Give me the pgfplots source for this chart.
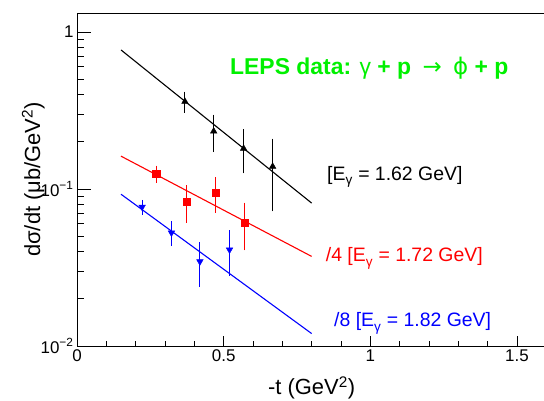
\documentclass[border=0pt]{standalone}
\usepackage{pgfplots}
\pgfplotsset{compat=1.18}
\usepackage{fontspec}
\setmainfont{Liberation Sans}
\newfontfamily\djv{DejaVu Sans}
\definecolor{rootgreen}{RGB}{0,240,0}
\definecolor{rootred}{RGB}{255,0,0}
\definecolor{rootblue}{RGB}{0,0,255}
\begin{document}
\begin{tikzpicture}[x=1bp,y=1bp]
\begin{axis}[
  at={(77bp,54bp)}, anchor=south west,
  width=469.3bp, height=333bp, scale only axis,
  xmin=0, xmax=1.6, ymode=log, ymin=0.01, ymax=1.32,
  axis line style={line width=0.9bp, black},
  xtick={0,0.5,1,1.5}, xticklabels={0,0.5,1,1.5},
  minor xtick={0.1,0.2,0.3,0.4,0.6,0.7,0.8,0.9,1.1,1.2,1.3,1.4},
  ytick={0.01,0.1,1}, yticklabels={10\textsuperscript{−2},10\textsuperscript{−1},1},
  minor ytick={0.02,0.03,0.04,0.05,0.06,0.07,0.08,0.09,0.2,0.3,0.4,0.5,0.6,0.7,0.8,0.9},
  tick align=inside, xtick pos=bottom, ytick pos=left,
  xtick style={/pgfplots/major tick length=10bp,/pgfplots/minor tick length=5bp, line width=0.8bp, black},
  ytick style={/pgfplots/major tick length=14bp,/pgfplots/minor tick length=7bp, line width=0.8bp, black},
  ticklabel style={font=\fontsize{17}{20}\selectfont},
  xlabel={-t (GeV\textsuperscript{2})},
  ylabel={dσ/dt (μb/GeV\textsuperscript{2})},
  label style={font=\fontsize{22}{26}\selectfont},
  xlabel style={at={(axis description cs:0.5,-0.147)}, anchor=base},
  ylabel style={at={(axis description cs:-0.0788,0.5)}, anchor=base},
  clip=false,
  error bars/y dir=both, error bars/y explicit,
  error bars/error mark=-,
]
% black: E = 1.62 GeV
\addplot[black, line width=1.1bp] coordinates {(0.15,0.768) (0.8,0.0813)};
\addplot[black, only marks, mark=triangle*, mark size=3.8bp,
  error bars/error bar style={line width=0.9bp},
  error bars/error mark options={mark size=1.8bp, line width=0.9bp}]
  table[x=x, y=y, y error=e] {
x y e
0.368 0.360 0.046
0.466 0.233 0.057
0.568 0.181 0.052
0.667 0.139 0.065
};
% red: E = 1.72 GeV, /4
\addplot[rootred, line width=1.1bp] coordinates {(0.15,0.1618) (0.8,0.0372)};
\addplot[rootred, only marks, mark=square*, mark size=3.6bp,
  error bars/error bar style={line width=0.9bp},
  error bars/error mark options={mark size=1.8bp, line width=0.9bp}]
  table[x=x, y=y, y error=e] {
x y e
0.270 0.1246 0.0125
0.373 0.0826 0.0200
0.472 0.0943 0.0217
0.571 0.0607 0.0190
};
% blue: E = 1.82 GeV, /8
\addplot[rootblue, line width=1.1bp] coordinates {(0.15,0.0926) (0.8,0.0120)};
\addplot[rootblue, only marks, mark=triangle*, mark size=3.8bp, mark options={rotate=180},
  error bars/error bar style={line width=0.9bp},
  error bars/error mark options={mark size=1.8bp, line width=0.9bp, rotate=0}]
  table[x=x, y=y, y error=e] {
x y e
0.222 0.0768 0.0063
0.322 0.0526 0.0082
0.419 0.0345 0.0101
0.520 0.0410 0.0123
};
\end{axis}
\node[anchor=base west, text=rootgreen, font=\fontsize{23}{27}\selectfont\bfseries, inner sep=0]
  at (230,326) {LEPS data: {\mdseries γ} + p\hspace{5bp} {\djv\mdseries →}\hspace{5bp} {\djv\mdseries ϕ} + p};
\node[anchor=base west, font=\fontsize{19.5}{22}\selectfont, inner sep=0]
  at (327,220) {[E\textsubscript{\raisebox{-1.5bp}{γ}} = 1.62 GeV]};
\node[anchor=base west, text=rootred, font=\fontsize{19.5}{22}\selectfont, inner sep=0]
  at (325.7,138.3) {/4 [E\textsubscript{\raisebox{-1.5bp}{γ}} = 1.72 GeV]};
\node[anchor=base west, text=rootblue, font=\fontsize{19.5}{22}\selectfont, inner sep=0]
  at (334,73.3) {/8 [E\textsubscript{\raisebox{-1.5bp}{γ}} = 1.82 GeV]};
\pgfresetboundingbox
\useasboundingbox (0,0) rectangle (544,400);
\end{tikzpicture}
\end{document}
